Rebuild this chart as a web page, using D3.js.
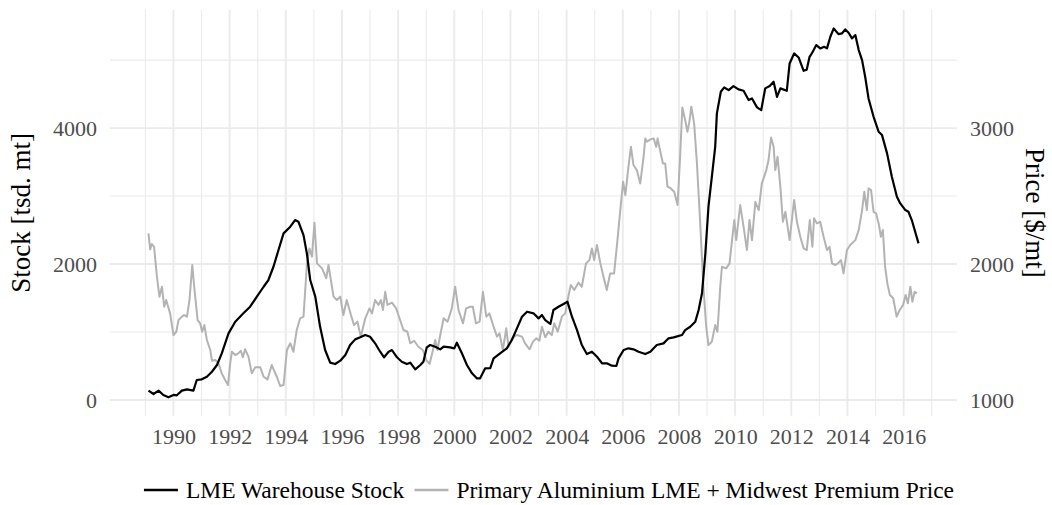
<!DOCTYPE html>
<meta charset="utf-8">
<head>
    <script src="https://d3js.org/d3.v7.min.js"></script>
</head>
<style>
    body { margin: 0; background: #fff; }
    .tick text { font-family: 'Liberation Serif', serif; font-size: 22px; fill: #4d4d4d; }
    .axis-title { font-family: 'Liberation Serif', serif; font-size: 27px; fill: #000; }
    .legend-text { font-family: 'Liberation Serif', serif; font-size: 23.5px; fill: #000; }
</style>
<div id="my_dataviz"></div>
<script>

    // LME warehouse stock, tsd. mt (decimal year / value)
    var stockYears = [1989.11,1989.29,1989.47,1989.64,1989.82,1990.00,1990.12,1990.30,1990.48,1990.71,1990.83,1991.01,1991.19,1991.37,1991.55,1991.72,1991.96,1992.20,1992.49,1992.73,1992.97,1993.21,1993.38,1993.56,1993.74,1993.92,1994.16,1994.33,1994.45,1994.63,1994.75,1994.87,1995.05,1995.22,1995.40,1995.58,1995.76,1995.94,1996.12,1996.29,1996.47,1996.65,1996.83,1997.00,1997.18,1997.36,1997.50,1997.66,1997.78,1997.96,1998.13,1998.31,1998.43,1998.61,1998.79,1998.90,1999.02,1999.14,1999.32,1999.50,1999.62,1999.85,2000.00,2000.09,2000.27,2000.45,2000.63,2000.80,2000.92,2001.10,2001.28,2001.40,2001.63,2001.87,2002.05,2002.23,2002.41,2002.59,2002.82,2003.00,2003.12,2003.24,2003.42,2003.53,2003.71,2003.89,2004.03,2004.19,2004.37,2004.54,2004.72,2004.90,2005.08,2005.26,2005.43,2005.61,2005.77,2005.85,2006.03,2006.20,2006.38,2006.56,2006.80,2006.98,2007.21,2007.45,2007.63,2007.81,2008.11,2008.22,2008.40,2008.58,2008.70,2008.82,2008.94,2009.05,2009.17,2009.29,2009.35,2009.49,2009.61,2009.77,2009.94,2010.12,2010.30,2010.48,2010.60,2010.78,2010.93,2011.07,2011.23,2011.37,2011.49,2011.61,2011.84,2011.94,2012.10,2012.26,2012.44,2012.55,2012.65,2012.73,2012.89,2013.03,2013.17,2013.27,2013.39,2013.51,2013.68,2013.80,2013.92,2014.04,2014.16,2014.28,2014.40,2014.52,2014.63,2014.75,2014.93,2015.11,2015.23,2015.41,2015.58,2015.76,2015.88,2016.06,2016.17,2016.29,2016.53];
    var stockValues = [137,88,137,74,40,74,69,137,157,137,294,304,343,416,515,687,980,1151,1275,1372,1519,1666,1765,1960,2206,2451,2549,2647,2622,2426,2157,1765,1520,1080,735,549,529,578,662,809,892,922,956,931,834,710,628,710,735,628,563,529,549,451,515,563,775,809,784,745,784,775,760,843,687,515,392,319,319,466,470,613,687,760,882,1054,1225,1299,1275,1201,1250,1176,1118,1324,1372,1412,1446,1225,1029,809,676,710,637,540,540,505,500,613,735,760,745,710,676,710,809,833,907,922,956,1029,1078,1151,1324,1569,2157,2843,3284,3725,4216,4534,4598,4559,4618,4569,4549,4412,4436,4304,4265,4584,4618,4681,4460,4584,4549,4951,5098,5039,4843,4860,5049,5098,5221,5172,5196,5172,5343,5466,5382,5392,5451,5402,5319,5368,5147,5000,4755,4436,4166,3946,3897,3628,3284,2990,2892,2794,2769,2647,2304];

    // Primary aluminium LME + Midwest premium price, $/mt
    var priceYears = [1989.11,1989.17,1989.23,1989.31,1989.41,1989.50,1989.59,1989.67,1989.74,1989.88,1990.00,1990.10,1990.18,1990.30,1990.38,1990.48,1990.57,1990.67,1990.75,1990.86,1990.95,1991.02,1991.10,1991.19,1991.31,1991.37,1991.49,1991.60,1991.72,1991.84,1991.94,1992.02,1992.08,1992.20,1992.31,1992.40,1992.47,1992.55,1992.67,1992.79,1992.91,1993.09,1993.21,1993.35,1993.50,1993.68,1993.80,1993.92,1994.04,1994.16,1994.27,1994.39,1994.51,1994.63,1994.75,1994.84,1994.93,1995.02,1995.11,1995.29,1995.44,1995.52,1995.70,1995.82,1995.94,1996.05,1996.17,1996.32,1996.43,1996.55,1996.67,1996.83,1996.98,1997.07,1997.18,1997.30,1997.39,1997.46,1997.54,1997.62,1997.78,1997.93,1998.07,1998.19,1998.33,1998.43,1998.57,1998.72,1998.88,1999.00,1999.12,1999.24,1999.32,1999.40,1999.50,1999.62,1999.76,1999.91,2000.03,2000.15,2000.31,2000.42,2000.57,2000.66,2000.77,2000.90,2001.02,2001.14,2001.25,2001.40,2001.52,2001.61,2001.73,2001.85,2001.93,2002.05,2002.23,2002.41,2002.52,2002.68,2002.80,2002.92,2003.03,2003.12,2003.24,2003.35,2003.47,2003.56,2003.68,2003.83,2003.95,2004.07,2004.15,2004.27,2004.42,2004.54,2004.69,2004.81,2004.90,2004.98,2005.08,2005.20,2005.34,2005.43,2005.55,2005.69,2005.81,2005.91,2006.01,2006.09,2006.20,2006.29,2006.38,2006.50,2006.62,2006.74,2006.80,2006.86,2006.98,2007.10,2007.19,2007.24,2007.31,2007.43,2007.51,2007.59,2007.71,2007.83,2007.95,2008.04,2008.12,2008.22,2008.30,2008.37,2008.44,2008.54,2008.64,2008.75,2008.87,2008.97,2009.05,2009.17,2009.29,2009.37,2009.47,2009.53,2009.68,2009.80,2009.89,2009.97,2010.04,2010.18,2010.30,2010.42,2010.51,2010.60,2010.72,2010.84,2010.95,2011.11,2011.19,2011.28,2011.37,2011.43,2011.51,2011.61,2011.70,2011.79,2011.94,2012.02,2012.10,2012.20,2012.32,2012.44,2012.55,2012.66,2012.75,2012.81,2012.91,2013.03,2013.15,2013.27,2013.36,2013.45,2013.57,2013.68,2013.77,2013.86,2013.98,2014.10,2014.28,2014.40,2014.52,2014.60,2014.69,2014.75,2014.84,2014.93,2015.02,2015.11,2015.19,2015.26,2015.34,2015.42,2015.51,2015.63,2015.75,2015.86,2015.98,2016.07,2016.15,2016.24,2016.31,2016.39,2016.47];
    var priceValues = [2226,2108,2147,2127,1907,1760,1833,1686,1735,1637,1478,1502,1588,1613,1625,1613,1735,1993,1809,1588,1564,1502,1551,1441,1368,1289,1294,1270,1196,1147,1110,1270,1355,1331,1343,1362,1314,1373,1319,1196,1240,1240,1171,1152,1257,1171,1103,1110,1368,1417,1355,1515,1601,1613,1993,2115,2054,2304,2005,1968,1895,1993,1760,1735,1760,1625,1735,1625,1551,1576,1466,1601,1674,1637,1735,1699,1735,1662,1796,1699,1716,1674,1588,1515,1502,1417,1436,1392,1368,1294,1265,1368,1441,1368,1478,1601,1576,1674,1833,1662,1564,1674,1686,1686,1564,1576,1796,1613,1637,1539,1466,1490,1368,1527,1392,1454,1478,1466,1417,1373,1429,1454,1436,1539,1461,1502,1478,1564,1502,1613,1637,1772,1846,1809,1863,1833,2005,2029,2115,2029,2140,2005,1882,1809,1931,1931,2176,2397,2605,2507,2715,2862,2728,2691,2593,2789,2924,2899,2917,2924,2862,2924,2851,2740,2740,2569,2556,2532,2434,2789,3152,3059,2973,3046,3157,3034,2740,2324,1833,1539,1404,1429,1551,1502,1833,1980,1968,2005,2176,2324,2176,2434,2275,2103,2324,2176,2458,2397,2593,2691,2765,2931,2862,2691,2789,2569,2311,2384,2176,2324,2471,2311,2201,2115,2103,2324,2127,2336,2299,2311,2201,2103,2127,2005,1993,2010,2029,1931,2103,2140,2176,2250,2397,2532,2397,2556,2544,2384,2372,2299,2201,2250,1980,1858,1772,1748,1613,1662,1699,1772,1711,1833,1723,1796,1784];

    var yearTicks = [1990,1992,1994,1996,1998,2000,2002,2004,2006,2008,2010,2012,2014,2016];
    var stockTicks = [0, 2000, 4000];
    var priceTicks = [1000, 2000, 3000];
    var seriesNames = ["LME Warehouse Stock", "Primary Aluminium LME + Midwest Premium Price"];
    var seriesColors = ["#000000", "#b3b3b3"];

    var W = 1052, H = 505;
    var margin = {top: 10, right: 95, bottom: 89.3, left: 110},
        width = W - margin.left - margin.right,
        height = H - margin.top - margin.bottom;

    var svg = d3.select("#my_dataviz")
        .append("svg")
        .attr("width", W)
        .attr("height", H)
        .style("background", "#fff")
        .append("g")
        .attr("transform", "translate(" + margin.left + "," + margin.top + ")");

    // scales (ggplot-like 5% expansion), price axis = 1000 + stock / 2
    var x = d3.scaleLinear().domain([1987.74, 2017.9]).range([0, width]);
    var y = d3.scaleLinear().domain([-231, 5737]).range([height, 0]);
    var y2 = d3.scaleLinear().domain([1000 + y.domain()[0] / 2, 1000 + y.domain()[1] / 2]).range([height, 0]);

    // minor grid
    var minorYears = d3.range(1989, 2018, 2);
    svg.append("g").selectAll("line").data(minorYears).enter().append("line")
        .attr("x1", function(d) { return x(d); }).attr("x2", function(d) { return x(d); })
        .attr("y1", 0).attr("y2", height)
        .attr("stroke", "#ebebeb").attr("stroke-width", 1.1);
    svg.append("g").selectAll("line").data([1000, 3000, 5000]).enter().append("line")
        .attr("x1", 0).attr("x2", width)
        .attr("y1", function(d) { return y(d); }).attr("y2", function(d) { return y(d); })
        .attr("stroke", "#ebebeb").attr("stroke-width", 1.1);

    // major grid
    svg.append("g").selectAll("line").data(yearTicks).enter().append("line")
        .attr("x1", function(d) { return x(d); }).attr("x2", function(d) { return x(d); })
        .attr("y1", 0).attr("y2", height)
        .attr("stroke", "#ebebeb").attr("stroke-width", 1.9);
    svg.append("g").selectAll("line").data(stockTicks).enter().append("line")
        .attr("x1", 0).attr("x2", width)
        .attr("y1", function(d) { return y(d); }).attr("y2", function(d) { return y(d); })
        .attr("stroke", "#ebebeb").attr("stroke-width", 1.9);

    // axes (labels only)
    svg.append("g")
        .attr("transform", "translate(0," + height + ")")
        .call(d3.axisBottom(x).tickValues(yearTicks).tickFormat(d3.format("d")).tickSize(0).tickPadding(13))
        .call(function(g) { g.select(".domain").remove(); });
    svg.append("g")
        .call(d3.axisLeft(y).tickValues(stockTicks).tickFormat(d3.format("d")).tickSize(0).tickPadding(13))
        .call(function(g) { g.select(".domain").remove(); });
    svg.append("g")
        .attr("transform", "translate(" + width + ",0)")
        .call(d3.axisRight(y2).tickValues(priceTicks).tickFormat(d3.format("d")).tickSize(0).tickPadding(13))
        .call(function(g) { g.select(".domain").remove(); });

    // axis titles
    svg.append("text")
        .attr("class", "axis-title")
        .attr("text-anchor", "middle")
        .attr("transform", "translate(" + (30 - margin.left) + "," + (height / 2) + ") rotate(-90)")
        .text("Stock [tsd. mt]");
    svg.append("text")
        .attr("class", "axis-title")
        .attr("text-anchor", "middle")
        .attr("transform", "translate(" + (1026 - margin.left) + "," + (height / 2) + ") rotate(90)")
        .text("Price [$/mt]");

    // lines
    var stockData = stockYears.map(function(d, i) { return [d, stockValues[i]]; });
    var priceData = priceYears.map(function(d, i) { return [d, priceValues[i]]; });

    svg.append("path")
        .datum(priceData)
        .attr("fill", "none")
        .attr("stroke", seriesColors[1])
        .attr("stroke-width", 2)
        .attr("stroke-linejoin", "round")
        .attr("d", d3.line().x(function(d) { return x(d[0]); }).y(function(d) { return y2(d[1]); }));

    svg.append("path")
        .datum(stockData)
        .attr("fill", "none")
        .attr("stroke", seriesColors[0])
        .attr("stroke-width", 2.2)
        .attr("stroke-linejoin", "round")
        .attr("d", d3.line().x(function(d) { return x(d[0]); }).y(function(d) { return y(d[1]); }));

    // legend
    var legend = d3.select("svg").append("g");
    var keyLen = 34, keyGap = 8, itemGap = 10, left0 = 143, ly = 490;
    var items = legend.selectAll("g").data(seriesNames).enter().append("g");
    items.append("line")
        .attr("x1", 0).attr("x2", keyLen)
        .attr("y1", 0).attr("y2", 0)
        .attr("stroke", function(d, i) { return seriesColors[i]; })
        .attr("stroke-width", 2.6);
    items.append("text")
        .attr("class", "legend-text")
        .attr("x", keyLen + keyGap)
        .attr("dy", "0.33em")
        .text(function(d) { return d; });
    var widths = [];
    items.each(function() { widths.push(this.getBBox().width); });
    var total = d3.sum(widths) + itemGap * (widths.length - 1);
    var pos = (143 + 955) / 2 - total / 2;
    items.attr("transform", function(d, i) {
        var t = "translate(" + pos + "," + ly + ")";
        pos += widths[i] + itemGap;
        return t;
    });

</script>
